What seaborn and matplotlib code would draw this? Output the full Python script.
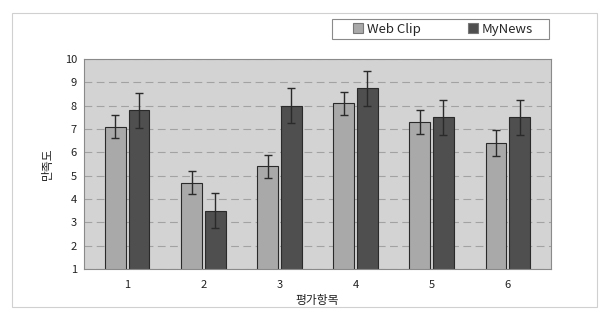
import numpy as np
import pandas as pd
import matplotlib
matplotlib.use('Agg')
import matplotlib.pyplot as plt
import seaborn as sns

# -----------------------------------------------------------
# Data
# -----------------------------------------------------------
items = ['1', '2', '3', '4', '5', '6']
webclip = [7.1, 4.7, 5.4, 8.1, 7.3, 6.4]
webclip_err = [0.5, 0.5, 0.5, 0.5, 0.5, 0.55]
mynews = [7.8, 3.5, 8.0, 8.75, 7.5, 7.5]
mynews_err = [0.75, 0.75, 0.75, 0.75, 0.75, 0.75]
series = ['Web Clip', 'MyNews']

df = pd.DataFrame({
    'item': items * 2,
    'score': webclip + mynews,
    'group': [series[0]] * len(items) + [series[1]] * len(items),
})

# -----------------------------------------------------------
# Plot
# -----------------------------------------------------------
sns.set_style('white')
plt.rcParams['font.family'] = ['Noto Sans CJK KR', 'DejaVu Sans']

fig = plt.figure(figsize=(6.03, 3.16), dpi=100)
ax = fig.add_axes([0.139, 0.149, 0.775, 0.664])

# faint outer frame like the original chart area
fig.patches.append(plt.Rectangle((0.02, 0.03), 0.97, 0.93, transform=fig.transFigure,
                                 fill=False, edgecolor='#d0d0d0', linewidth=0.8))

sns.barplot(data=df, x='item', y='score', hue='group', order=items,
            hue_order=series, palette=['#a9a9a9', '#4f4f4f'],
            errorbar=None, width=0.62, gap=0.12,
            edgecolor='#2a2a2a', linewidth=0.8, ax=ax, zorder=2)

# error bars at the centre of each bar
for cont, err in zip(ax.containers, [webclip_err, mynews_err]):
    xs = [p.get_x() + p.get_width() / 2 for p in cont.patches]
    ys = [p.get_height() for p in cont.patches]
    ax.errorbar(xs, ys, yerr=err, fmt='none', ecolor='#2a2a2a',
                elinewidth=1.0, capsize=3, capthick=1.0, zorder=3)

ax.set_facecolor('#d3d3d3')
ax.set_ylim(1, 10)
ax.set_yticks(range(1, 11))
ax.yaxis.grid(True, linestyle=(0, (7, 4)), color='#a2a2a2', linewidth=0.8, zorder=0)
ax.set_axisbelow(True)
for s in ax.spines.values():
    s.set_color('#8a8a8a')
    s.set_linewidth(0.8)

ax.tick_params(axis='y', labelsize=8, length=0, colors='#222222', pad=5)
ax.tick_params(axis='x', labelsize=8, length=0, colors='#222222', pad=8)
ax.set_xlabel('평가항목', fontsize=8.5, color='#222222', labelpad=3)
ax.set_ylabel('만족도', fontsize=8.5, color='#222222', labelpad=8)

# legend box above the plot, frame drawn separately
leg = ax.legend(loc='center left', bbox_to_anchor=(0.576, 1.143), ncol=2,
                frameon=False, fontsize=9.5, handlelength=0.75,
                handleheight=0.75, borderpad=0, borderaxespad=0,
                handletextpad=0.3, columnspacing=3.6)
for h in leg.legend_handles:
    h.set_edgecolor('#777777')
ax.add_patch(plt.Rectangle((0.531, 1.095), 0.465, 0.095, transform=ax.transAxes,
                           fill=False, edgecolor='#8a8a8a', linewidth=0.8,
                           clip_on=False))

fig.savefig('out.png', dpi=100, facecolor='white')
